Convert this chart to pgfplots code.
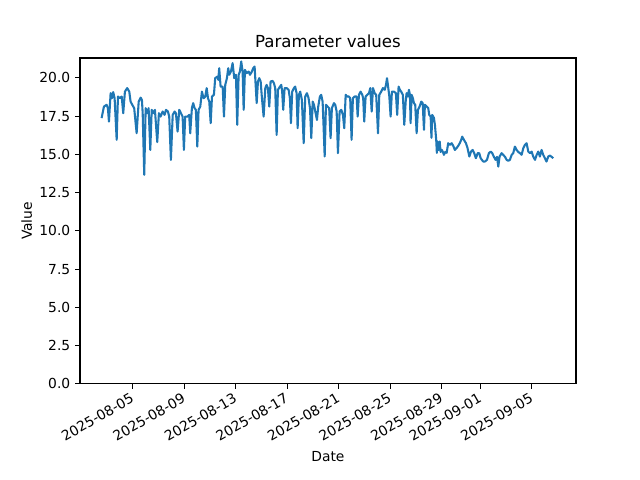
\documentclass[border=0pt]{standalone}
\usepackage{pgfplots}
\pgfplotsset{compat=1.18}
\usepackage{fontspec}
\setmainfont{DejaVu Sans}
\definecolor{c0}{HTML}{1F77B4}
\begin{document}
\begin{tikzpicture}
\pgfplotsset{every axis/.append style={font=\fontsize{10}{12}\selectfont}}
\begin{axis}[
  scale only axis,
  width=358.5pt, height=235.6pt,
  xmin=-4.09, xmax=34.42, ymin=0, ymax=21.3,
  axis line style={line width=0.8pt},
  tick style={line width=0.8pt, black},
  tick align=outside, major tick length=3.5pt,
  xtick pos=bottom, ytick pos=left,
  xtick={0,4,8,12,16,20,24,27,31},
  xticklabels={2025-08-05,2025-08-09,2025-08-13,2025-08-17,2025-08-21,2025-08-25,2025-08-29,2025-09-01,2025-09-05},
  xticklabel style={rotate=30, anchor=north east, font=\fontsize{10}{12}\selectfont, inner sep=1pt, xshift=-2pt},
  ytick={0,2.5,5,7.5,10,12.5,15,17.5,20},
  yticklabel style={/pgf/number format/fixed, /pgf/number format/fixed zerofill, /pgf/number format/precision=1, font=\fontsize{10}{12}\selectfont},
  /pgf/number format/assume math mode=true,
  xlabel={Date}, ylabel={Value},
  title={Parameter values},
  title style={font=\fontsize{12}{14}\selectfont, yshift=-2pt},
  xlabel style={font=\fontsize{10}{12}\selectfont, yshift=-2.5pt},
  ylabel style={font=\fontsize{10}{12}\selectfont, yshift=-1.5pt},
]
\addplot[c0, line width=1.5pt, line join=round, mark=none] table {
-2.41 17.37
-2.23 18.12
-2.02 18.24
-1.92 18.02
-1.84 17.14
-1.71 19.00
-1.61 18.67
-1.51 19.07
-1.40 18.67
-1.24 15.95
-1.14 18.78
-0.99 18.67
-0.85 18.78
-0.73 17.69
-0.60 19.10
-0.42 19.33
-0.26 19.10
-0.16 18.45
-0.03 18.24
0.12 18.02
0.31 16.38
0.47 18.45
0.62 18.71
0.72 18.56
0.78 17.69
0.90 13.66
1.01 18.02
1.13 17.69
1.24 18.02
1.37 15.29
1.48 17.91
1.60 17.69
1.73 17.91
1.91 15.80
2.04 17.69
2.17 17.47
2.33 17.80
2.48 17.58
2.59 17.91
2.74 17.80
2.84 17.47
2.97 14.64
3.11 17.58
3.26 17.80
3.36 17.69
3.49 16.49
3.62 17.91
3.75 17.69
3.88 17.47
3.98 15.29
4.08 17.47
4.27 17.47
4.39 17.58
4.47 16.38
4.60 18.02
4.70 18.35
4.81 18.02
4.91 17.91
5.02 15.51
5.12 17.91
5.25 18.12
5.38 19.10
5.51 18.67
5.64 18.78
5.75 19.33
5.85 18.67
5.95 18.45
6.06 17.04
6.16 18.78
6.31 18.89
6.41 19.98
6.57 20.08
6.65 19.87
6.72 20.63
6.83 19.43
6.99 19.43
7.09 17.47
7.19 19.54
7.32 19.98
7.42 20.63
7.50 20.20
7.63 20.41
7.76 20.96
7.89 19.98
8.02 20.20
8.12 16.93
8.23 20.20
8.33 20.41
8.43 21.07
8.54 20.41
8.62 17.91
8.72 20.52
8.85 20.31
9.01 20.41
9.11 20.20
9.26 20.41
9.36 20.63
9.47 20.74
9.55 19.54
9.63 18.35
9.73 19.76
9.83 19.98
9.94 19.76
10.04 18.67
10.17 17.47
10.30 19.33
10.40 19.54
10.50 19.33
10.61 18.12
10.71 19.76
10.87 19.80
10.97 19.65
11.07 19.33
11.18 16.27
11.28 19.22
11.44 19.43
11.54 19.54
11.61 19.10
11.69 17.91
11.80 19.33
11.96 19.33
12.11 19.22
12.21 18.67
12.29 17.04
12.39 19.10
12.52 19.33
12.62 19.43
12.73 19.00
12.81 16.71
12.91 18.89
13.01 19.10
13.14 18.56
13.28 15.73
13.40 18.78
13.53 19.00
13.66 18.67
13.77 18.02
13.87 16.06
13.98 18.45
14.08 18.24
14.18 17.80
14.31 17.25
14.41 18.12
14.54 18.78
14.64 18.89
14.75 18.45
14.83 16.71
14.91 14.86
15.01 18.24
15.14 18.12
15.26 18.02
15.37 16.06
15.47 18.02
15.63 18.35
15.73 18.24
15.84 17.80
15.94 15.08
16.07 17.80
16.20 17.91
16.33 17.58
16.43 16.71
16.54 18.89
16.66 18.78
16.79 18.78
16.89 18.67
17.00 15.95
17.10 18.67
17.23 18.78
17.39 18.78
17.47 17.47
17.57 18.89
17.70 19.10
17.83 18.89
17.90 18.67
17.98 17.14
18.09 18.78
18.21 18.89
18.35 19.00
18.45 19.33
18.56 17.80
18.66 19.33
18.79 19.00
18.91 18.89
19.05 16.38
19.15 18.89
19.30 19.10
19.43 19.33
19.57 19.22
19.67 19.54
19.75 19.98
19.85 19.33
19.93 18.78
20.03 17.47
20.13 19.10
20.29 19.10
20.44 19.00
20.54 17.58
20.65 19.43
20.75 19.22
20.85 19.10
20.98 18.89
21.09 16.93
21.20 18.45
21.27 19.00
21.37 18.78
21.45 19.22
21.53 18.89
21.58 17.04
21.66 18.89
21.76 18.67
21.84 18.35
21.94 18.24
22.05 16.38
22.15 17.91
22.28 18.12
22.41 18.45
22.52 18.35
22.62 16.60
22.69 18.24
22.83 18.12
22.95 18.02
23.03 17.58
23.14 17.47
23.20 16.08
23.26 17.58
23.39 17.39
23.47 16.93
23.57 15.95
23.62 15.10
23.68 15.84
23.76 15.29
23.84 15.84
23.91 15.16
24.01 15.29
24.09 15.16
24.17 14.97
24.27 15.16
24.38 15.10
24.50 15.73
24.64 15.62
24.77 15.73
24.89 15.56
25.02 15.29
25.16 15.42
25.28 15.56
25.41 15.75
25.51 15.95
25.59 16.16
25.72 15.95
25.88 15.73
26.00 15.42
26.14 14.86
26.27 15.18
26.40 15.29
26.52 15.08
26.65 14.75
26.79 15.08
26.91 15.08
27.02 14.75
27.12 14.64
27.22 14.53
27.35 14.53
27.51 14.64
27.66 15.08
27.80 15.18
27.92 15.08
28.05 14.84
28.18 14.64
28.29 14.84
28.39 14.20
28.49 14.86
28.65 15.08
28.77 14.97
28.91 14.84
29.04 14.64
29.16 14.58
29.29 14.64
29.43 14.97
29.55 15.08
29.68 15.51
29.81 15.29
29.94 15.16
30.07 15.08
30.20 14.97
30.33 15.40
30.46 15.62
30.59 15.73
30.72 15.18
30.85 15.08
30.98 15.18
31.10 14.86
31.24 14.64
31.37 14.97
31.49 15.18
31.62 14.86
31.75 15.29
31.88 14.97
32.01 14.75
32.13 14.53
32.27 14.86
32.40 14.92
32.53 14.84
32.66 14.75
};
\end{axis}
\path (-57.8pt,-69.4pt) rectangle (404.8pt,277.5pt);
\end{tikzpicture}
\end{document}
